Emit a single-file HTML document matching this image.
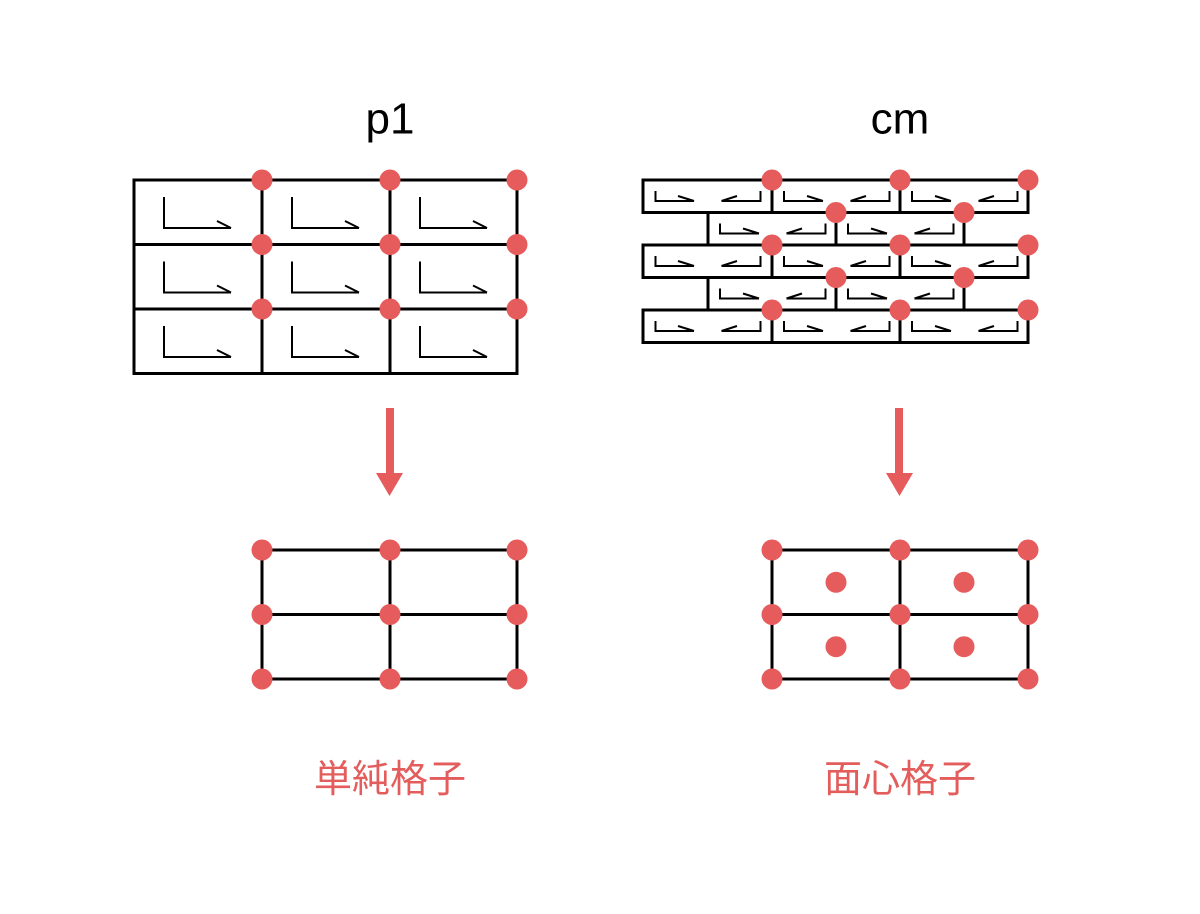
<!DOCTYPE html>
<html>
<head>
<meta charset="utf-8">
<style>
  html, body { margin:0; padding:0; background:#fff; }
  svg { display:block; }
</style>
</head>
<body>
<svg width="1200" height="914" viewBox="0 0 1200 914" xmlns="http://www.w3.org/2000/svg">
  <rect width="1200" height="914" fill="#fff"/>

  <!-- Titles -->
  <text x="390" y="133.5" font-family="'Liberation Sans', sans-serif" font-size="44" text-anchor="middle" fill="#000">p1</text>
  <text x="900" y="133.5" font-family="'Liberation Sans', sans-serif" font-size="44" text-anchor="middle" fill="#000">cm</text>

  <!-- p1 grid -->
  <g stroke="#000" stroke-width="3" fill="none" stroke-linecap="square">
    <rect x="134" y="180" width="383" height="193.5"/>
    <line x1="262" y1="180" x2="262" y2="373.5"/>
    <line x1="390" y1="180" x2="390" y2="373.5"/>
    <line x1="134" y1="244.5" x2="517" y2="244.5"/>
    <line x1="134" y1="309" x2="517" y2="309"/>
  </g>
  <g stroke="#000" stroke-width="2" fill="none">
    <!-- motifs: L + barb in each cell -->
    <path d="M164 197 V228 H231 M217 221 L231 228"/>
    <path d="M292 197 V228 H359 M345 221 L359 228"/>
    <path d="M420 197 V228 H487 M473 221 L487 228"/>
    <path d="M164 261.5 V292.5 H231 M217 285.5 L231 292.5"/>
    <path d="M292 261.5 V292.5 H359 M345 285.5 L359 292.5"/>
    <path d="M420 261.5 V292.5 H487 M473 285.5 L487 292.5"/>
    <path d="M164 326 V357 H231 M217 350 L231 357"/>
    <path d="M292 326 V357 H359 M345 350 L359 357"/>
    <path d="M420 326 V357 H487 M473 350 L487 357"/>
  </g>
  <g fill="#e65b5b">
    <circle cx="262" cy="180" r="10.5"/><circle cx="390" cy="180" r="10.5"/><circle cx="517" cy="180" r="10.5"/>
    <circle cx="262" cy="244.5" r="10.5"/><circle cx="390" cy="244.5" r="10.5"/><circle cx="517" cy="244.5" r="10.5"/>
    <circle cx="262" cy="309" r="10.5"/><circle cx="390" cy="309" r="10.5"/><circle cx="517" cy="309" r="10.5"/>
  </g>

  <!-- cm grid -->
  <g stroke="#000" stroke-width="3" fill="none" stroke-linecap="square">
    <line x1="643" y1="180" x2="1028" y2="180"/>
    <line x1="643" y1="212.5" x2="1028" y2="212.5"/>
    <line x1="643" y1="245" x2="1028" y2="245"/>
    <line x1="643" y1="277.5" x2="1028" y2="277.5"/>
    <line x1="643" y1="310" x2="1028" y2="310"/>
    <line x1="643" y1="342.5" x2="1028" y2="342.5"/>
    <!-- full rows verticals -->
    <path d="M643 180 V212.5 M772 180 V212.5 M900 180 V212.5 M1028 180 V212.5"/>
    <path d="M643 245 V277.5 M772 245 V277.5 M900 245 V277.5 M1028 245 V277.5"/>
    <path d="M643 310 V342.5 M772 310 V342.5 M900 310 V342.5 M1028 310 V342.5"/>
    <!-- offset rows verticals -->
    <path d="M708 212.5 V245 M836 212.5 V245 M964 212.5 V245"/>
    <path d="M708 277.5 V310 M836 277.5 V310 M964 277.5 V310"/>
  </g>
  <g stroke="#000" stroke-width="2" fill="none" id="motifs">
    <!-- row 1 y0=180 -->
    <path d="M655.5 191 V201 H694 M678 196 L694 201 M760.5 191 V201 H721.5 M721.5 201 L737 196"/>
    <path d="M784 191 V201 H823 M807 196 L823 201 M889.5 191 V201 H850.5 M850.5 201 L866 196"/>
    <path d="M912 191 V201 H951 M935 196 L951 201 M1017.5 191 V201 H978.5 M978.5 201 L994 196"/>
    <!-- row 2 y0=212.5 -->
    <path d="M720 223.5 V233.5 H759 M743 228.5 L759 233.5 M825.5 223.5 V233.5 H786.5 M786.5 233.5 L802 228.5"/>
    <path d="M848 223.5 V233.5 H887 M871 228.5 L887 233.5 M953.5 223.5 V233.5 H914.5 M914.5 233.5 L930 228.5"/>
    <!-- row 3 y0=245 -->
    <path d="M655.5 256 V266 H694 M678 261 L694 266 M760.5 256 V266 H721.5 M721.5 266 L737 261"/>
    <path d="M784 256 V266 H823 M807 261 L823 266 M889.5 256 V266 H850.5 M850.5 266 L866 261"/>
    <path d="M912 256 V266 H951 M935 261 L951 266 M1017.5 256 V266 H978.5 M978.5 266 L994 261"/>
    <!-- row 4 y0=277.5 -->
    <path d="M720 288.5 V298.5 H759 M743 293.5 L759 298.5 M825.5 288.5 V298.5 H786.5 M786.5 298.5 L802 293.5"/>
    <path d="M848 288.5 V298.5 H887 M871 293.5 L887 298.5 M953.5 288.5 V298.5 H914.5 M914.5 298.5 L930 293.5"/>
    <!-- row 5 y0=310 -->
    <path d="M655.5 321 V331 H694 M678 326 L694 331 M760.5 321 V331 H721.5 M721.5 331 L737 326"/>
    <path d="M784 321 V331 H823 M807 326 L823 331 M889.5 321 V331 H850.5 M850.5 331 L866 326"/>
    <path d="M912 321 V331 H951 M935 326 L951 331 M1017.5 321 V331 H978.5 M978.5 331 L994 326"/>
  </g>
  <g fill="#e65b5b">
    <circle cx="772" cy="180" r="10.5"/><circle cx="900" cy="180" r="10.5"/><circle cx="1028" cy="180" r="10.5"/>
    <circle cx="836" cy="212.5" r="10.5"/><circle cx="964" cy="212.5" r="10.5"/>
    <circle cx="772" cy="245" r="10.5"/><circle cx="900" cy="245" r="10.5"/><circle cx="1028" cy="245" r="10.5"/>
    <circle cx="836" cy="277.5" r="10.5"/><circle cx="964" cy="277.5" r="10.5"/>
    <circle cx="772" cy="310" r="10.5"/><circle cx="900" cy="310" r="10.5"/><circle cx="1028" cy="310" r="10.5"/>
  </g>

  <!-- Arrows -->
  <g fill="#e65b5b">
    <rect x="386" y="408" width="8" height="66"/>
    <polygon points="376,473 403,473 389.5,496"/>
    <rect x="895" y="408" width="8" height="66"/>
    <polygon points="886,473 913,473 899.5,496"/>
  </g>

  <!-- Simple lattice -->
  <g stroke="#000" stroke-width="3" fill="none">
    <rect x="262" y="550" width="255" height="129"/>
    <line x1="390" y1="550" x2="390" y2="679"/>
    <line x1="262" y1="614.5" x2="517" y2="614.5"/>
  </g>
  <g fill="#e65b5b">
    <circle cx="262" cy="550" r="10.5"/><circle cx="390" cy="550" r="10.5"/><circle cx="517" cy="550" r="10.5"/>
    <circle cx="262" cy="614.5" r="10.5"/><circle cx="390" cy="614.5" r="10.5"/><circle cx="517" cy="614.5" r="10.5"/>
    <circle cx="262" cy="679" r="10.5"/><circle cx="390" cy="679" r="10.5"/><circle cx="517" cy="679" r="10.5"/>
  </g>

  <!-- Centered lattice -->
  <g stroke="#000" stroke-width="3" fill="none">
    <rect x="772" y="550" width="256" height="129"/>
    <line x1="900" y1="550" x2="900" y2="679"/>
    <line x1="772" y1="614.5" x2="1028" y2="614.5"/>
  </g>
  <g fill="#e65b5b">
    <circle cx="772" cy="550" r="10.5"/><circle cx="900" cy="550" r="10.5"/><circle cx="1028" cy="550" r="10.5"/>
    <circle cx="772" cy="614.5" r="10.5"/><circle cx="900" cy="614.5" r="10.5"/><circle cx="1028" cy="614.5" r="10.5"/>
    <circle cx="772" cy="679" r="10.5"/><circle cx="900" cy="679" r="10.5"/><circle cx="1028" cy="679" r="10.5"/>
    <circle cx="836" cy="582.3" r="10.5"/><circle cx="964" cy="582.3" r="10.5"/>
    <circle cx="836" cy="646.7" r="10.5"/><circle cx="964" cy="646.7" r="10.5"/>
  </g>

  <!-- Labels -->
  <text x="390" y="792" font-family="'Liberation Sans', 'Noto Sans CJK JP', sans-serif" font-size="38" text-anchor="middle" fill="#e35d5d">単純格子</text>
  <text x="900" y="792" font-family="'Liberation Sans', 'Noto Sans CJK JP', sans-serif" font-size="38" text-anchor="middle" fill="#e35d5d">面心格子</text>
</svg>
</body>
</html>
